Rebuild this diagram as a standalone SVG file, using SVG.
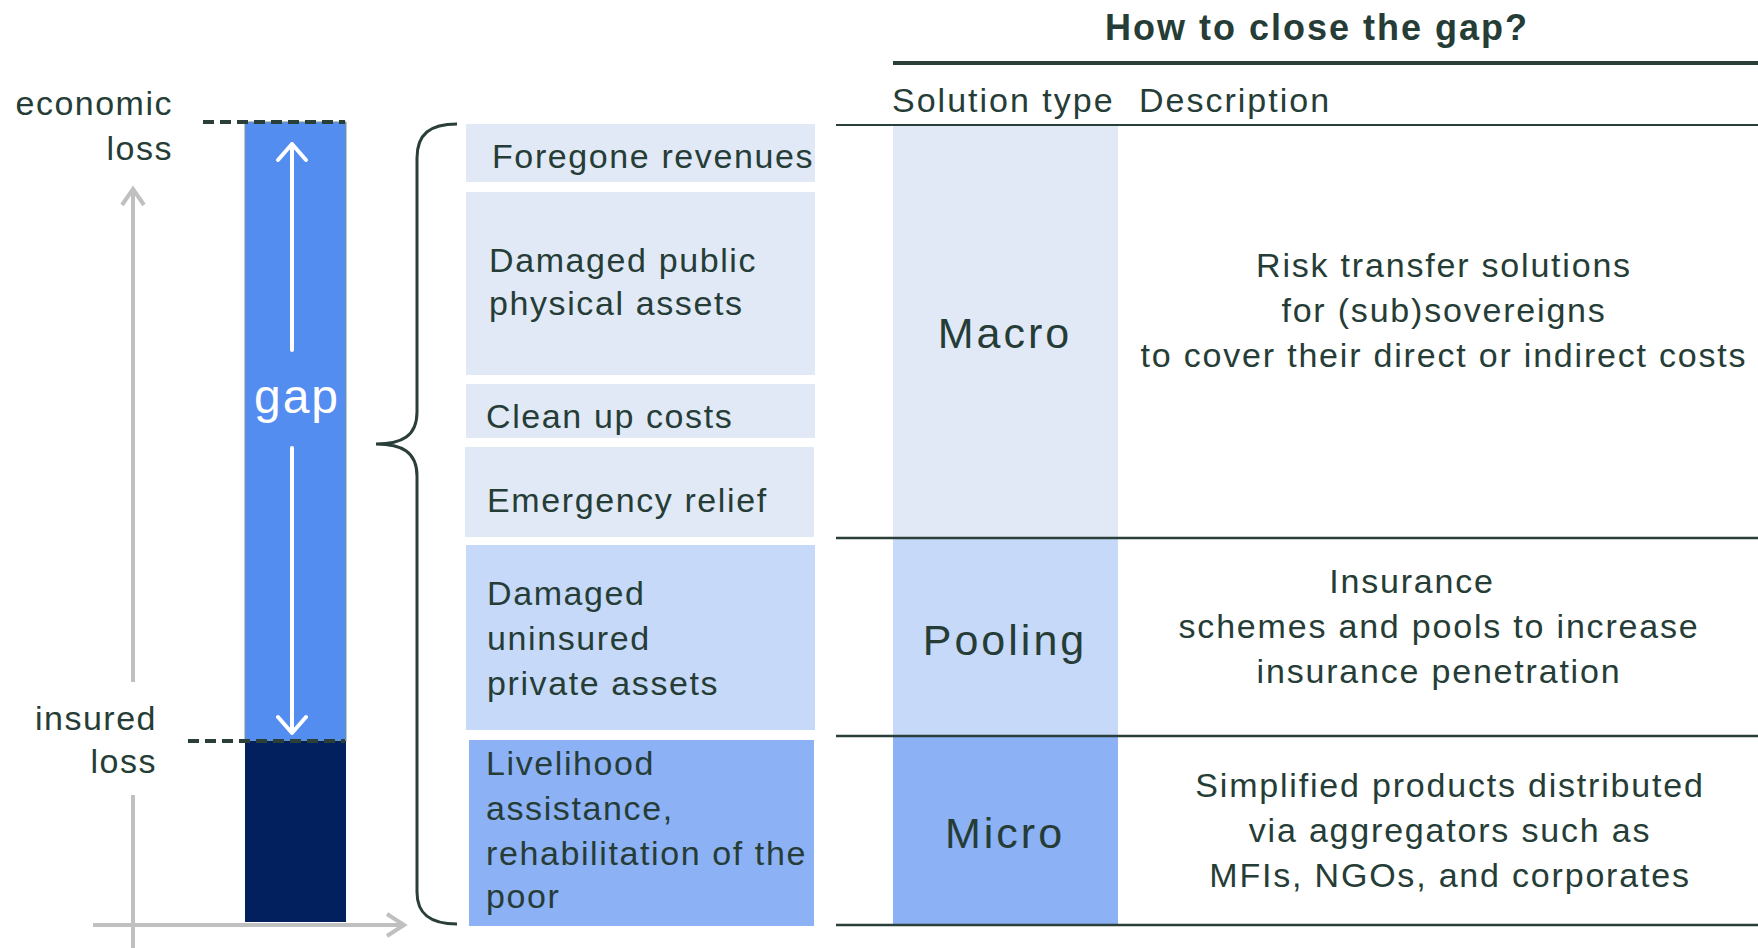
<svg xmlns="http://www.w3.org/2000/svg" width="1758" height="948" viewBox="0 0 1758 948">
  <style>
    text { font-family: "Liberation Sans", Arial, sans-serif; fill: #263d37; }
    .lbl { font-size: 34px; letter-spacing: 1.5px; }
    .box { font-size: 34px; letter-spacing: 1.6px; }
    .hdr { font-size: 34px; letter-spacing: 2px; }
    .type { font-size: 43px; letter-spacing: 3px; text-anchor: middle; }
    .desc { font-size: 34px; letter-spacing: 1.8px; text-anchor: middle; }
    .title { font-size: 36px; font-weight: bold; letter-spacing: 2px; text-anchor: middle; }
    .axis { stroke: #c0c0c0; stroke-width: 4; fill: none; }
    .dash { stroke: #2a3f3a; stroke-width: 4; stroke-dasharray: 11 6; fill: none; }
    .warrow { stroke: #ffffff; stroke-width: 4; fill: none; stroke-linecap: round; stroke-linejoin: round; }
    .rule { stroke: #2a3f3a; fill: none; }
    .c1 { fill: #e1e9f6; }
    .c2 { fill: #c6d9f8; }
    .c3 { fill: #8db1f5; }
  </style>

  <!-- loss axes -->
  <g id="axes">
    <path class="axis" d="M133,189 V682 M133,795 V948 M93,925 H404"/>
    <path class="axis" d="M122,205 L133,189 L144,205"/>
    <path class="axis" d="M387,914 L404,925 L387,936"/>
  </g>

  <!-- stacked loss bar -->
  <g id="loss-bar">
    <rect x="245" y="122" width="101" height="619" fill="#548df0" stroke="#7d948f" stroke-width="1"/>
    <rect x="245" y="741" width="101" height="181" fill="#03205e"/>
    <path class="warrow" d="M292,350 V144 M278,160 L292,144 L306,160"/>
    <path class="warrow" d="M292,448 V733 M278,717 L292,733 L306,717"/>
    <text x="297" y="413" font-size="48" letter-spacing="2" text-anchor="middle" style="fill:#ffffff">gap</text>
  </g>

  <!-- threshold markers -->
  <g id="thresholds">
    <path class="dash" d="M203,122 H345"/>
    <path class="dash" d="M188,741 H345"/>
  </g>

  <g id="label-economic">
    <text class="lbl" x="173" y="115" text-anchor="end">economic</text>
    <text class="lbl" x="173" y="160" text-anchor="end">loss</text>
  </g>
  <g id="label-insured">
    <text class="lbl" x="157" y="730" text-anchor="end">insured</text>
    <text class="lbl" x="157" y="773" text-anchor="end">loss</text>
  </g>

  <!-- brace grouping the gap components -->
  <g id="brace">
    <path d="M457,124 C430,124 417,134 417,158 L417,412 C417,436 402,444 376,444 C402,444 417,452 417,476 L417,892 C417,914 430,924 457,924" fill="none" stroke="#2a3f3a" stroke-width="3"/>
  </g>

  <!-- gap components -->
  <g id="foregone-revenues">
    <rect class="c1" x="466" y="124" width="349" height="58"/>
    <text class="box" x="492" y="168">Foregone revenues</text>
  </g>
  <g id="damaged-public">
    <rect class="c1" x="466" y="192" width="349" height="183"/>
    <text class="box" x="489" y="272">Damaged public</text>
    <text class="box" x="489" y="315">physical assets</text>
  </g>
  <g id="clean-up">
    <rect class="c1" x="466" y="384" width="349" height="54"/>
    <text class="box" x="486" y="428">Clean up costs</text>
  </g>
  <g id="emergency-relief">
    <rect class="c1" x="465" y="447" width="349" height="90"/>
    <text class="box" x="487" y="512">Emergency relief</text>
  </g>
  <g id="damaged-private">
    <rect class="c2" x="466" y="545" width="349" height="185"/>
    <text class="box" x="487" y="605">Damaged</text>
    <text class="box" x="487" y="650">uninsured</text>
    <text class="box" x="487" y="695">private assets</text>
  </g>
  <g id="livelihood">
    <rect class="c3" x="469" y="740" width="345" height="186"/>
    <text class="box" x="486" y="775">Livelihood</text>
    <text class="box" x="486" y="820">assistance,</text>
    <text class="box" x="486" y="865">rehabilitation of the</text>
    <text class="box" x="486" y="908">poor</text>
  </g>

  <!-- solutions table -->
  <g id="table-header">
    <text class="title" x="1317" y="40">How to close the gap?</text>
    <path class="rule" d="M893,63 H1758" stroke-width="4"/>
    <text class="hdr" x="892" y="112">Solution type</text>
    <text class="hdr" x="1139" y="112">Description</text>
  </g>

  <g id="row-macro">
    <rect class="c1" x="893" y="126" width="225" height="412"/>
    <text class="type" x="1005" y="348">Macro</text>
    <text class="desc" x="1444" y="277">Risk transfer solutions</text>
    <text class="desc" x="1444" y="322">for (sub)sovereigns</text>
    <text class="desc" x="1444" y="367">to cover their direct or indirect costs</text>
  </g>
  <g id="row-pooling">
    <rect class="c2" x="893" y="538" width="225" height="198"/>
    <text class="type" x="1005" y="655">Pooling</text>
    <text class="desc" x="1412" y="593">Insurance</text>
    <text class="desc" x="1439" y="638">schemes and pools to increase</text>
    <text class="desc" x="1439" y="683">insurance penetration</text>
  </g>
  <g id="row-micro">
    <rect class="c3" x="893" y="736" width="225" height="189"/>
    <text class="type" x="1005" y="848">Micro</text>
    <text class="desc" x="1450" y="797">Simplified products distributed</text>
    <text class="desc" x="1450" y="842">via aggregators such as</text>
    <text class="desc" x="1450" y="887">MFIs, NGOs, and corporates</text>
  </g>

  <g id="table-rules">
    <path class="rule" d="M836,125 H1758" stroke-width="2"/>
    <path class="rule" d="M836,538 H1758 M836,736 H1758 M836,925 H1758" stroke-width="2.5"/>
  </g>
</svg>
